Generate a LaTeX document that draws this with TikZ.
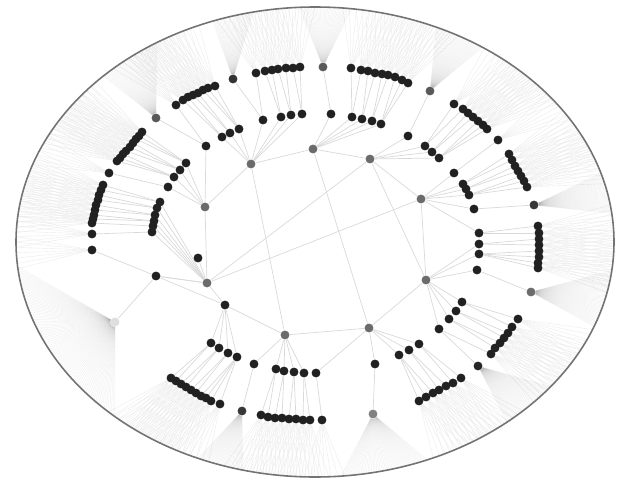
\documentclass[tikz,border=0pt]{standalone}
\usetikzlibrary{backgrounds}

\tikzset{
  dot/.style={circle,fill=black!87,inner sep=0pt,minimum size=0.178cm},
  hub/.style={dot,fill=black!58},
  edge/.style={black!15,line width=0.4pt},
  fanline/.style={black!8,line width=0.22pt},
  densefan/.style={black,opacity=0.05,line width=0.3pt},
  rim/.style={black!55,line width=0.9pt},
}

% --- Ring lists: name/x/y/parent ---
\def\midring{m1/263/120/I, m2/281/117/I, m3/291/115/I, m4/302/114/I,
  m5/206/146/H, m6/222/137/I, m7/230/133/I, m8/239/129/I,
  m9/186/163/H, m10/180/170/H, m11/174/177/H, m12/168/187/H,
  m13/160/202/G, m14/157/208/G, m15/155/215/G, m16/154/221/G,
  m17/153/226/G, m18/152/232/G, m19/198/258/G, m20/156/276/G,
  m21/331/114/A, m22/352/117/A, m23/362/119/A, m24/372/121/A, m25/381/124/A,
  m26/408/136/B, m27/425/146/B, m28/432/152/B, m29/439/158/B,
  m30/454/173/C, m31/463/184/C, m32/466/189/C, m33/469/195/C,
  m34/474/209/C, m35/479/233/C, m36/479/244/D, m37/479/254/D, m38/477/270/D,
  m39/462/302/D, m40/456/311/D, m41/449/319/D, m42/439/329/D,
  m43/419/344/E, m44/409/350/E, m45/399/355/E, m46/375/364/E, m47/316/373/E,
  m48/276/369/F, m49/284/371/F, m50/294/372/F, m51/304/373/F, m52/254/364/F,
  m53/211/343/m57, m54/219/348/m57, m55/228/353/m57, m56/237/357/m57}

\def\outerring{o1/256/73/m1, o2/265/71/m2, o3/272/70/m2, o4/278/69/m3,
  o5/286/68/m3, o6/293/68/m4, o7/300/67/m4,
  o8/351/68/m22, o9/361/70/m22, o10/368/71/m23, o11/375/73/m23,
  o12/382/74/m24, o13/388/75/m24, o14/395/77/m25, o15/402/80/m25, o16/408/83/m25,
  o17/454/104/m27, o18/463/109/m27, o19/468/113/m28, o20/473/117/m28,
  o21/478/121/m29, o22/483/125/m29, o23/487/129/m29,
  o24/498/140/m30,
  o25/509/154/m31, o26/512/160/m31, o27/515/166/m32, o28/518/171/m32,
  o29/521/176/m33, o30/524/181/m33, o31/527/187/m33,
  o32/538/226/m35, o33/539/233/m35, o34/539/239/m36, o35/539/245/m36,
  o36/539/251/m37, o37/539/257/m37, o38/538/263/m37, o39/538/268/m37,
  o40/518/319/m39, o41/512/327/m39, o42/508/333/m40, o43/504/338/m40,
  o44/500/343/m41, o45/495/348/m41, o46/491/354/m42,
  o47/461/378/m43, o48/453/383/m43, o49/446/386/m44, o50/439/390/m44,
  o51/433/393/m45, o52/426/397/m45, o53/419/401/m45,
  o54/261/415/m48, o55/268/417/m48, o56/275/418/m49, o57/282/418/m49,
  o58/289/419/m50, o59/296/419/m50, o60/303/420/m51, o61/310/420/m51, o62/322/420/m47,
  o63/171/378/m53, o64/176/381/m53, o65/181/384/m54, o66/186/387/m54,
  o67/191/390/m55, o68/196/393/m55, o69/201/396/m56, o70/206/398/m56,
  o71/211/401/m56, o72/220/404/m56,
  o73/92/250/m20, o74/92/234/m18,
  o75/103/185/m13, o76/101/190/m13, o77/99/195/m14, o78/98/200/m14,
  o79/96/205/m15, o80/95/210/m15, o81/94/215/m16, o82/93/219/m16, o83/92/223/m17,
  o84/109/173/m12,
  o85/142/132/m9, o86/139/136/m9, o87/136/139/m9, o88/133/143/m10,
  o89/130/147/m10, o90/126/151/m10, o91/123/154/m11, o92/120/158/m11, o93/117/161/m11,
  o94/176/105/m5, o95/183/100/m6, o96/188/97/m6, o97/193/95/m7,
  o98/198/93/m7, o99/203/90/m8, o100/208/88/m8, o101/215/86/m8}

% --- Collapsed nodes: name/x/y/parent/tone/from/to/lines ---
\def\collapsed{c1/233/79/m1/80/-110/-102/30, c2/323/67/m21/65/-93/-83/36,
  c3/430/91/m26/65/-66/-56/36, c4/534/205/m34/78/-17/-7/36,
  c5/531/292/m38/58/7/21/44, c6/478/366/m42/85/38/50/40,
  c7/373/414/m46/50/68/85/50, c8/242/411/m52/78/104/113/34,
  c9/115/322/m20/13/132/174/90, c10/156/118/m5/65/-135/-122/40}

\begin{document}
\begin{tikzpicture}[x=0.02cm,y=-0.02cm]
\useasboundingbox (0,0) rectangle (622,480);

% --- Rim ---
\draw[rim] (315,242) ellipse [x radius=299,y radius=235];

% --- Hubs ---
\foreach \n/\X/\Y in {A/313/149, B/370/159, C/421/199, D/426/280,
                      E/369/328, F/285/335, G/207/283, H/205/207, I/251/164}
  \node[hub] (\n) at (\X,\Y) {};

% --- Middle ring ---
\node[dot] (m57) at (225,305) {};
\foreach \n/\X/\Y/\p in \midring
  \node[dot] (\n) at (\X,\Y) {};

% --- Outer ring ---
\foreach \n/\X/\Y/\p in \outerring
  \node[dot] (\n) at (\X,\Y) {};
\foreach \n/\X/\Y/\p/\tone/\lo/\hi/\cnt in \collapsed
  \node[dot,fill=black!\tone] (\n) at (\X,\Y) {};

\begin{scope}[on background layer]
  % hub links
  \foreach \a/\b in {A/I, A/B, B/C, C/D, D/E, E/F, F/m57, m57/G, G/H, H/I,
                     A/E, I/F, B/G, C/G, B/D, m20/G, m20/m57}
    \draw[edge] (\a) -- (\b);
  \foreach \n/\X/\Y/\p in \midring
    \draw[edge] (\p) -- (\n);
  \foreach \n/\X/\Y/\p in \outerring
    \draw[edge] (\p) -- (\n);
  \foreach \n/\X/\Y/\p/\tone/\lo/\hi/\cnt in \collapsed
    \draw[edge] (\p) -- (\n);

  % leaf fans out to the rim
  \foreach \n/\X/\Y/\p in \outerring {
    \pgfmathsetmacro\dir{atan2((\Y-242)/235,(\X-315)/299)}
    \foreach \k in {-3,...,3} {
      \pgfmathsetmacro\ang{\dir+1.3*\k}
      \coordinate (tip) at ([shift={(315,242)}]\ang:299 and 235);
      \draw[fanline] (\n) -- (tip);
    }
  }

  % dense fans of collapsed nodes
  \foreach \n/\X/\Y/\p/\tone/\lo/\hi/\cnt in \collapsed {
    \foreach \k in {1,...,\cnt} {
      \pgfmathsetmacro\ang{\lo+(\hi-\lo)*(\k-1)/(\cnt-1)}
      \coordinate (tip) at ([shift={(315,242)}]\ang:299 and 235);
      \draw[densefan] (\n) -- (tip);
    }
  }
\end{scope}
\end{tikzpicture}
\end{document}
